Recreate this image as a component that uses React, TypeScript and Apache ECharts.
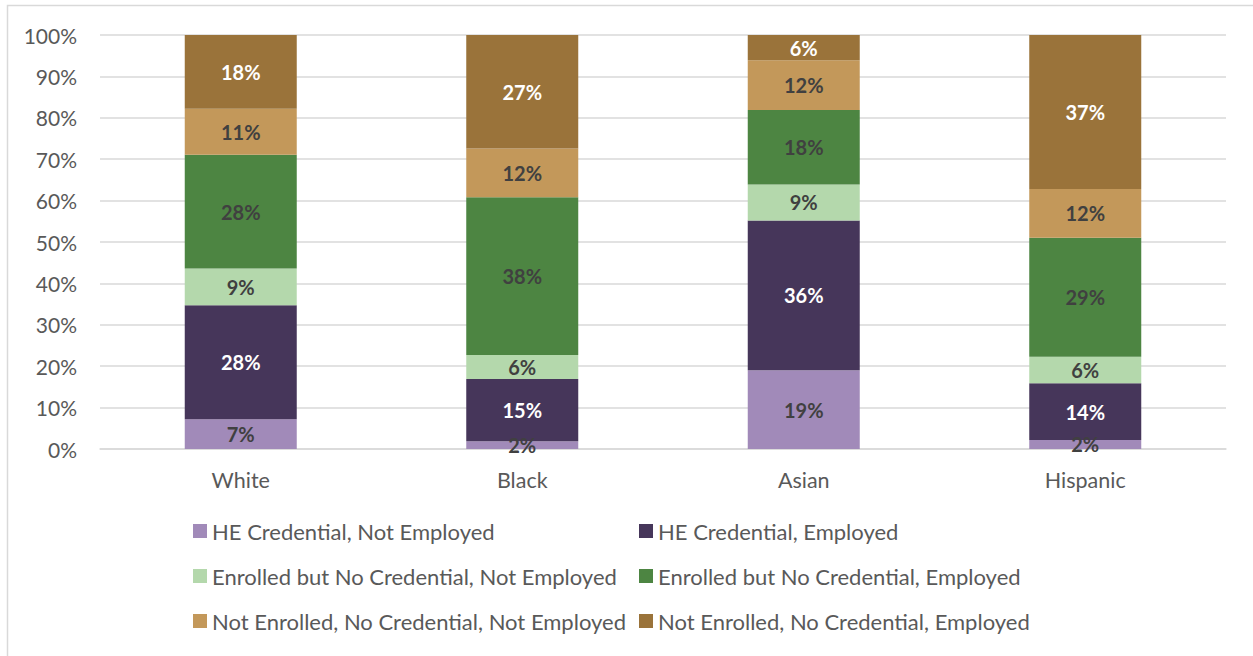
import React, { useEffect, useRef } from "react";
import * as echarts from "echarts";

const categories = ["White", "Black", "Asian", "Hispanic"];
const seriesNames = [
  "HE Credential, Not Employed",
  "HE Credential, Employed",
  "Enrolled but No Credential, Not Employed",
  "Enrolled but No Credential, Employed",
  "Not Enrolled, No Credential, Not Employed",
  "Not Enrolled, No Credential, Employed",
];
const heNotEmployed = [7.2, 1.9, 19.0, 2.2];
const heEmployed = [27.5, 15.0, 36.2, 13.7];
const enrolledNotEmployed = [8.9, 5.8, 8.7, 6.4];
const enrolledEmployed = [27.5, 38.1, 18.0, 28.7];
const notEnrolledNotEmployed = [11.1, 11.8, 12.0, 11.8];
const notEnrolledEmployed = [17.8, 27.4, 6.1, 37.2];
const seriesValues = [
  heNotEmployed,
  heEmployed,
  enrolledNotEmployed,
  enrolledEmployed,
  notEnrolledNotEmployed,
  notEnrolledEmployed,
];
const colors = ["#A18AB9", "#46365A", "#B4D8AC", "#4D8542", "#C3985A", "#9A733A"];
const labelColors = ["#404040", "#FFFFFF", "#404040", "#404040", "#404040", "#FFFFFF"];
const yTicks = [0, 10, 20, 30, 40, 50, 60, 70, 80, 90, 100];

const FONT = "Lato";

export default function App() {
  const ref = useRef<HTMLDivElement>(null);
  useEffect(() => {
    document.body.style.margin = "0";
    const chart = echarts.init(ref.current!, null, { renderer: "svg" });
    const legendPos = [
      [193, 533],
      [639, 533],
      [193, 578],
      [639, 578],
      [193, 623],
      [639, 623],
    ];
    chart.setOption({
      animation: false,
      textStyle: { fontFamily: FONT },
      grid: { left: 100, right: 27, top: 35, bottom: 207, containLabel: false },
      xAxis: {
        type: "category",
        data: categories,
        axisLine: { lineStyle: { color: "#D9D9D9", width: 1.5 } },
        axisTick: { show: false },
        axisLabel: { color: "#595959", fontSize: 21.5, margin: 20, fontFamily: FONT },
      },
      yAxis: {
        type: "value",
        min: yTicks[0],
        max: yTicks[yTicks.length - 1],
        interval: 10,
        axisLine: { show: false },
        axisTick: { show: false },
        splitLine: { lineStyle: { color: "#D9D9D9", width: 1.5 } },
        axisLabel: {
          color: "#595959",
          fontSize: 21,
          margin: 23,
          fontFamily: FONT,
          formatter: (v: number) => v + "%",
        },
      },
      legend: seriesNames.map((name, i) => ({
        data: [name],
        left: legendPos[i][0],
        top: legendPos[i][1] - 13,
        itemWidth: 14,
        itemHeight: 14,
        itemGap: 0,
        padding: 0,
        icon: "rect",
        textStyle: { color: "#595959", fontSize: 22, fontFamily: FONT, padding: [0, 0, 0, 0] },
        selectedMode: false,
      })),
      series: seriesNames.map((name, i) => ({
        name,
        type: "bar",
        stack: "total",
        barWidth: 112,
        data: seriesValues[i],
        itemStyle: { color: colors[i] },
        label: {
          show: true,
          position: "inside",
          color: labelColors[i],
          fontSize: 20,
          fontWeight: "bold",
          fontFamily: FONT,
          formatter: (p: any) => Math.round(p.value) + "%",
        },
      })),
      graphic: [
        {
          type: "rect",
          shape: { x: 7.5, y: 5.5, width: 1300, height: 700 },
          style: { fill: "none", stroke: "#D9D9D9", lineWidth: 1.5 },
          silent: true,
        },
      ],
    });
    return () => chart.dispose();
  }, []);
  return <div ref={ref} style={{ width: 1253, height: 656 }} />;
}
